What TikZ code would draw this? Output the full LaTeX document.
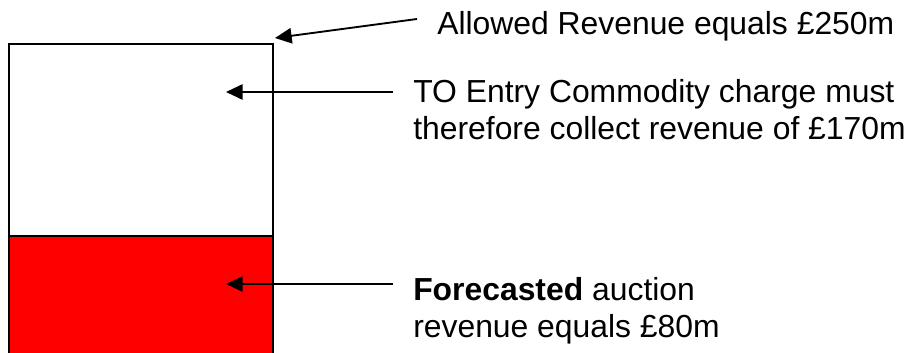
\documentclass[tikz,border=0pt]{standalone}
\usepackage{fontspec}
\setmainfont{Liberation Sans}
\usetikzlibrary{arrows.meta}
\begin{document}
\begin{tikzpicture}[x=0.75pt,y=-0.75pt,
  lbl/.style={font=\fontsize{23.9}{27.6}\selectfont, inner sep=0pt, align=left},
  arr/.style={line width=1.4pt, -{Triangle[length=12.5pt,width=11.5pt]}},
  barline/.style={line width=1.4pt}]
\clip (0,0) rectangle (911,353);
% bar
\fill[red] (9,236) rectangle (273,360);
\draw[barline] (9,360) -- (9,44) -- (273,44) -- (273,360);
\draw[barline] (9,236) -- (273,236);
% arrow targets
\coordinate (tip1) at (275,38);
\coordinate (tip2) at (226,92);
\coordinate (tip3) at (226,284);
% labels
\node[lbl, anchor=base west] (t1) at (437,35) {Allowed Revenue equals £250m};
\node[lbl, anchor=north west] (t2) at (413,79) {TO Entry Commodity charge must\\therefore collect revenue of £170m};
\node[lbl, anchor=north west] (t3) at (413,277) {\textbf{Forecasted} auction\\revenue equals £80m};
% connectors
\draw[arr] (t1.base west) ++(-20,-16) -- (tip1);
\draw[arr] (t2.north west) ++(-20,13) -- (tip2);
\draw[arr] (t3.north west) ++(-20,7) -- (tip3);
\end{tikzpicture}
\end{document}
